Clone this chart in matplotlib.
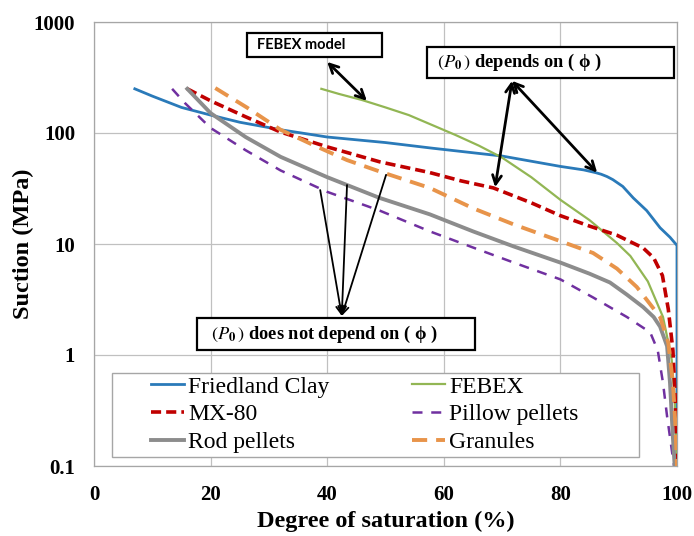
import matplotlib
matplotlib.use("Agg")
import matplotlib.pyplot as plt
from matplotlib.patches import Rectangle

# Water retention curves (degree of saturation %, suction MPa)
friedland_x = [7, 10, 15, 20, 25, 32, 40, 50, 58, 70, 80, 84, 86, 87, 88, 89, 90.7, 92.5, 94.8, 97.1, 98.8, 100, 100]
friedland_y = [250, 215, 170, 145, 125, 107, 92, 82, 73, 62, 50, 46.5, 44, 42.5, 40.5, 38, 33, 26, 20, 14, 11.5, 9.7, 0.1]

febex_x = [39, 42, 46, 50, 54, 58, 62, 66, 70, 75, 80, 85, 89.7, 92, 95, 97.6, 98.5, 99.1, 99.6, 100]
febex_y = [250, 225, 198, 170, 145, 118, 96, 77, 60, 40, 25, 16.4, 10.2, 7.8, 4.6, 2.2, 1.3, 0.9, 0.4, 0.1]

mx80_x = [16, 20, 26, 32, 40, 49, 57.6, 63, 68.5, 75, 80, 85, 89.7, 94.2, 96, 97.5, 98.5, 99.3, 99.7, 100]
mx80_y = [250, 195, 140, 102, 75, 55, 44, 37, 32, 23.5, 18, 14.5, 12, 9.2, 7.5, 5.2, 2.6, 1.1, 0.4, 0.1]

pillow_x = [13.4, 15.6, 20, 26, 32, 40, 49, 57.6, 65, 72, 80, 85.6, 91.4, 95.4, 96.7, 97.6, 98.3, 99.1, 99.5]
pillow_y = [250, 186, 111, 70, 46, 29.5, 20, 13, 9.3, 6.8, 4.8, 3.3, 2.2, 1.6, 1.1, 0.56, 0.28, 0.14, 0.1]

rod_x = [16, 20, 26, 32, 40, 49, 57.6, 65, 72, 80, 85, 88.5, 91.4, 94.2, 96, 97.1, 98.3, 98.8, 99.3, 99.6]
rod_y = [250, 151, 92, 61, 40, 26, 18.5, 13, 9.5, 6.8, 5.4, 4.5, 3.5, 2.7, 2.2, 1.8, 1.2, 0.56, 0.18, 0.1]

granules_x = [20.8, 26.2, 32, 37.6, 43.4, 49, 57.6, 65, 72, 80, 85.6, 89.7, 93.1, 97.1, 98.5, 99.3, 99.7, 100]
granules_y = [254, 170, 107, 78, 57, 45, 32, 21, 15, 10.6, 8.3, 6.0, 4.1, 2.2, 1.3, 0.56, 0.25, 0.1]

x_ticks = [0, 20, 40, 60, 80, 100]
y_ticks = [0.1, 1, 10, 100, 1000]
y_tick_labels = ["0.1", "1", "10", "100", "1000"]

SERIF = ["Liberation Serif", "DejaVu Serif"]
plt.rcParams["font.family"] = SERIF
plt.rcParams["mathtext.fontset"] = "stix"

fig = plt.figure(figsize=(6.94, 5.36), dpi=100)
ax = fig.add_axes([94 / 694, 1 - 466 / 536, 583 / 694, 444 / 536])

ax.plot(friedland_x, friedland_y, color="#2a7ab9", lw=2.0, label="Friedland Clay", zorder=3)
ax.plot(febex_x, febex_y, color="#92b654", lw=1.6, label="FEBEX", zorder=3)
ax.plot(mx80_x, mx80_y, color="#c00000", lw=2.6, dashes=(2.8, 1.4), label="MX-80", zorder=3)
ax.plot(pillow_x, pillow_y, color="#7030a0", lw=1.8, dashes=(4, 3.5), label="Pillow pellets", zorder=3)
ax.plot(rod_x, rod_y, color="#8c8c8c", lw=2.8, label="Rod pellets", zorder=3)
ax.plot(granules_x, granules_y, color="#e8944a", lw=2.8, dashes=(3.9, 2.3), label="Granules", zorder=3)

ax.set_yscale("log")
ax.set_xlim(0, 100)
ax.set_ylim(0.1, 1000)
ax.set_xticks(x_ticks)
ax.set_yticks(y_ticks)
ax.set_yticklabels(y_tick_labels)
ax.minorticks_off()
ax.tick_params(length=0, labelsize=15)
ax.tick_params(axis="y", pad=13.5)
ax.tick_params(axis="x", pad=14)
for lab in ax.get_xticklabels() + ax.get_yticklabels():
    lab.set_fontweight("bold")
ax.grid(True, color="#c0c0c0", lw=0.9)
for sp in ax.spines.values():
    sp.set_color("#a6a6a6")
    sp.set_linewidth(0.9)

ax.set_xlabel("Degree of saturation (%)", fontsize=17.5, fontweight="bold")
ax.set_ylabel("Suction (MPa)", fontsize=17.5, fontweight="bold")
ax.xaxis.set_label_coords(0.5, -0.1)
ax.yaxis.set_label_coords(-0.103, 0.5)

# legend: frame drawn separately so its size matches the original
ax.add_patch(Rectangle((0.031, 0.02), 0.904, 0.189, transform=ax.transAxes,
                       facecolor="white", edgecolor="#a6a6a6", lw=1.0, zorder=4))
handles, labels = ax.get_legend_handles_labels()
order = [0, 2, 4, 1, 3, 5]
leg = ax.legend([handles[i] for i in order], [labels[i] for i in order], ncol=2,
                loc="upper left", bbox_to_anchor=((151 - 94) / 583, 1 - (376 - 22) / 444),
                frameon=False, fontsize=17, borderpad=0, borderaxespad=0,
                handlelength=1.4, handletextpad=0.17, columnspacing=3.5,
                labelspacing=0.26)
leg.set_zorder(5)

# annotation boxes
def box(x0, x1, y0, y1):
    ax.add_patch(Rectangle((x0, y0), x1 - x0, y1 - y0, transform=ax.transAxes,
                           facecolor="white", edgecolor="black", lw=1.6, zorder=6))

box(0.262, 0.494, 0.921, 0.975)
ax.text(0.279, 0.948, "FEBEX model", transform=ax.transAxes, fontsize=10.5,
        fontweight="bold", family=["Lato", "DejaVu Sans"], va="center", ha="left", zorder=7)

box(0.571, 0.995, 0.874, 0.944)
ax.text(0.588, 0.909, r"$(P_{\mathbf{0}}\,)$ depends on ( ϕ )", transform=ax.transAxes,
        fontsize=13.2, fontweight="bold", va="center", ha="left", zorder=7)

box(0.176, 0.654, 0.261, 0.333)
ax.text(0.2, 0.297, r"$(P_{\mathbf{0}}\,)$ does not depend on ( ϕ )", transform=ax.transAxes,
        fontsize=13.2, fontweight="bold", va="center", ha="left", zorder=7)

arrow2 = dict(arrowstyle="<->", color="black", lw=2.0, mutation_scale=16,
              shrinkA=0, shrinkB=0)
ax.annotate("", xy=(46.8, 195), xytext=(40, 437), arrowprops=arrow2, zorder=7)
ax.annotate("", xy=(68.8, 32.5), xytext=(71.7, 295), arrowprops=arrow2, zorder=7)
ax.annotate("", xy=(86.3, 44), xytext=(71.7, 295), arrowprops=arrow2, zorder=7)

arrow1 = dict(arrowstyle="->", color="black", lw=1.3, mutation_scale=14,
              shrinkA=0, shrinkB=0)
for sx, sy in [(38.8, 30.6), (43.4, 34), (50.1, 42)]:
    ax.annotate("", xy=(42.5, 2.25), xytext=(sx, sy), arrowprops=arrow1, zorder=7)

fig.savefig("out.png", dpi=100)
